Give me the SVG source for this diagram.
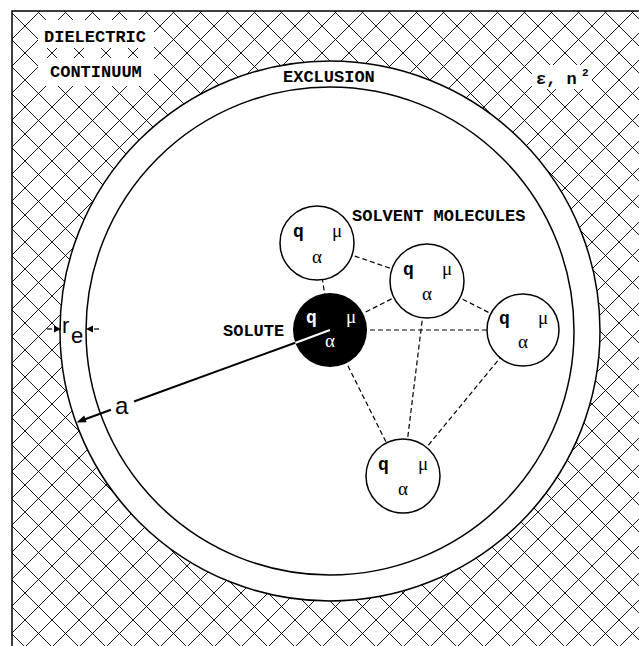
<svg xmlns="http://www.w3.org/2000/svg" width="639" height="646" viewBox="0 0 639 646">
<defs>
<pattern id="hatch" patternUnits="userSpaceOnUse" x="25" y="26" width="27" height="27">
<path d="M-1,-1 L28,28 M-1,28 L28,-1" stroke="#000" stroke-width="0.9" fill="none"/>
</pattern>
</defs>
<style>
.lbl{font-family:"Liberation Mono","Courier New",monospace;font-weight:bold;font-size:17px;fill:#000}
.q{font-family:"Liberation Mono","Courier New",monospace;font-weight:bold;font-size:18px}
.g{font-family:"Liberation Serif","Times New Roman",serif;font-size:19px}
.mol{fill:#fff;stroke:#000;stroke-width:1.5}
.dash{stroke:#000;stroke-width:1.2;stroke-dasharray:5,3;fill:none}
.sans{font-family:"Liberation Sans",Arial,sans-serif;fill:#000}
</style>
<rect width="639" height="646" fill="#fff"/>
<g id="continuum">
<rect x="12" y="11" width="640" height="650" fill="url(#hatch)"/>
<path d="M12,646 L12,11 L639,11" fill="none" stroke="#000" stroke-width="1.5"/>
<rect x="38" y="20" width="116" height="66" fill="#fff"/>
<path d="M47,48 l10,10 M47,58 l10,-10 M74,48 l10,10 M74,58 l10,-10 M101,48 l10,10 M101,58 l10,-10 M128,48 l10,10 M128,58 l10,-10" stroke="#000" stroke-width="0.9"/>
<text class="lbl" x="44" y="42">DIELECTRIC</text>
<text class="lbl" x="50" y="77">CONTINUUM</text>
<rect x="532" y="65" width="60" height="24" fill="#fff"/>
<text class="lbl" x="536" y="84">ε, n</text>
<text class="lbl" x="582" y="76" style="font-size:11px">2</text>
</g>
<g id="cavity">
<circle cx="330" cy="331" r="270" fill="#fff" stroke="#000" stroke-width="1.5"/>
<circle cx="330" cy="331" r="244" fill="none" stroke="#000" stroke-width="1.5"/>
<text class="lbl" x="283" y="82">EXCLUSION</text>
</g>
<g id="connectors">
<line class="dash" x1="330" y1="330" x2="317" y2="243"/>
<line class="dash" x1="317" y1="243" x2="427" y2="281"/>
<line class="dash" x1="330" y1="330" x2="427" y2="281"/>
<line class="dash" x1="330" y1="330" x2="523" y2="330"/>
<line class="dash" x1="330" y1="330" x2="403" y2="476"/>
<line class="dash" x1="427" y1="281" x2="403" y2="476"/>
<line class="dash" x1="427" y1="281" x2="523" y2="330"/>
<line class="dash" x1="523" y1="330" x2="403" y2="476"/>
</g>
<g id="solvent1">
<circle class="mol" cx="317" cy="243" r="37"/>
<text class="q" x="293" y="237">q</text><text class="g" x="332" y="237">μ</text><text class="g" x="312" y="263">α</text>
</g>
<g id="solvent2">
<circle class="mol" cx="427" cy="281" r="37"/>
<text class="q" x="403" y="275">q</text><text class="g" x="442" y="275">μ</text><text class="g" x="422" y="300">α</text>
</g>
<g id="solvent3">
<circle class="mol" cx="523" cy="330" r="36"/>
<text class="q" x="499" y="324">q</text><text class="g" x="538" y="324">μ</text><text class="g" x="518" y="348">α</text>
</g>
<g id="solvent4">
<circle class="mol" cx="403" cy="476" r="37"/>
<text class="q" x="378" y="470">q</text><text class="g" x="418" y="470">μ</text><text class="g" x="398" y="495">α</text>
</g>
<g id="solute">
<circle cx="330" cy="330" r="37" fill="#000"/>
<text class="q" x="306" y="323" fill="#fff">q</text><text class="g" x="346" y="323" fill="#fff">μ</text><text class="g" x="325" y="347" fill="#fff">α</text>
</g>
<text class="lbl" x="352" y="221">SOLVENT MOLECULES</text>
<text class="lbl" x="223" y="336">SOLUTE</text>
<g id="radius-a">
<line x1="330" y1="330" x2="295" y2="343" stroke="#fff" stroke-width="2"/>
<line x1="295.3" y1="342.7" x2="134" y2="401.5" stroke="#000" stroke-width="2"/>
<line x1="111" y1="409.7" x2="85" y2="419.2" stroke="#000" stroke-width="2"/>
<polygon points="76.5,422.5 86.6,422.2 84.2,415.6" fill="#000"/>
<text class="sans" x="115" y="414" font-size="24">a</text>
</g>
<g id="radius-re">
<line x1="47" y1="329" x2="52" y2="329" stroke="#000" stroke-width="1.2"/>
<polygon points="61,329 54,325.5 54,332.5" fill="#000"/>
<polygon points="86,329 93,325.5 93,332.5" fill="#000"/>
<line x1="94" y1="329" x2="99" y2="329" stroke="#000" stroke-width="1.2"/>
<text class="sans" x="62" y="333" font-size="22">r</text>
<text class="sans" x="71" y="343" font-size="22">e</text>
</g>
</svg>
